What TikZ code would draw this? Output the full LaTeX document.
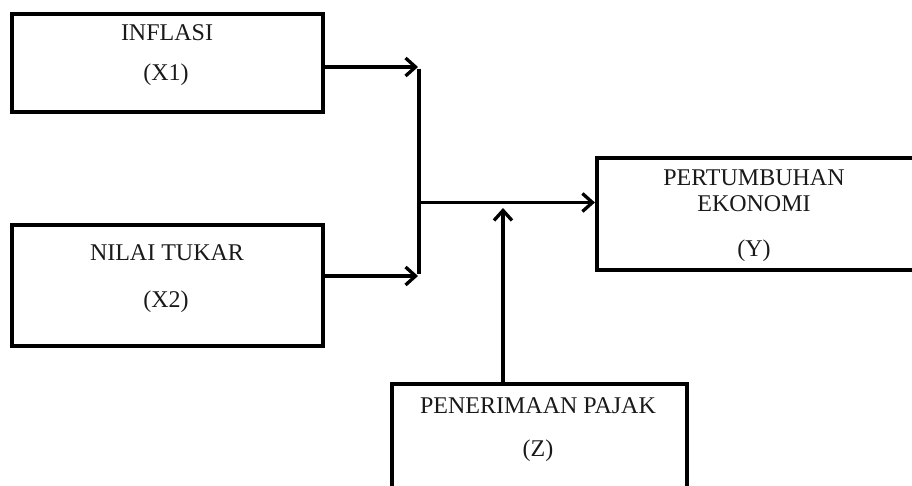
\documentclass[tikz,border=0pt]{standalone}
\usepackage{fontspec}
\setmainfont{Liberation Serif}
\usetikzlibrary{arrows.meta}
\begin{document}
\begin{tikzpicture}[x=1pt,y=-1pt,
  box/.style={draw=black,line width=4.2pt,minimum width=#1,inner sep=0pt},
  lbl/.style={anchor=base,inner sep=0pt,font=\fontsize{24pt}{28pt}\selectfont,text=black!90},
  conn/.style={line width=3.5pt},
  arr/.style={conn,-{Straight Barb[length=10pt,width=18pt,line width=3.3pt]}}]
\useasboundingbox (0,0) rectangle (912,486);
\clip (0,0) rectangle (912,486);
% boxes
\node[box=311pt,minimum height=98pt] (x1) at (167.5,63) {};
\node[box=311pt,minimum height=121pt] (x2) at (167.5,285.5) {};
\node[box=333pt,minimum height=112pt] (y) at (763.5,214) {};
\node[box=295pt,minimum height=136pt] (z) at (539.5,452) {};
% texts
\node[lbl] (t1a) at (167,41) {INFLASI};
\node[lbl] (t1b) at (166,81) {(X1)};
\node[lbl] (t2a) at (167,260) {NILAI TUKAR};
\node[lbl] (t2b) at (166,307) {(X2)};
\node[lbl] (tya) at (754,186) {PERTUMBUHAN};
\node[lbl] (tyb) at (754,212) {EKONOMI};
\node[lbl] (tyc) at (754,257) {(Y)};
\node[lbl] (tza) at (538,413) {PENERIMAAN PAJAK};
\node[lbl] (tzb) at (538,456) {(Z)};
% junction coordinates
\coordinate (jt) at (419,67);
\coordinate (jb) at (419,276);
\coordinate (jm) at (419,202.5);
\coordinate (zt) at (503,208);
% connectors
\draw[arr] (x1.east |- jt) -- ([xshift=-1pt]jt);
\draw[arr] (x2.east |- jb) -- ([xshift=-1pt]jb);
\draw[conn] ([yshift=-1.75pt]jt) -- ([yshift=1.75pt]jb);
\draw[arr] (jm) -- (y.west |- jm);
\draw[arr] (z.north -| zt) -- (zt);
\end{tikzpicture}
\end{document}
